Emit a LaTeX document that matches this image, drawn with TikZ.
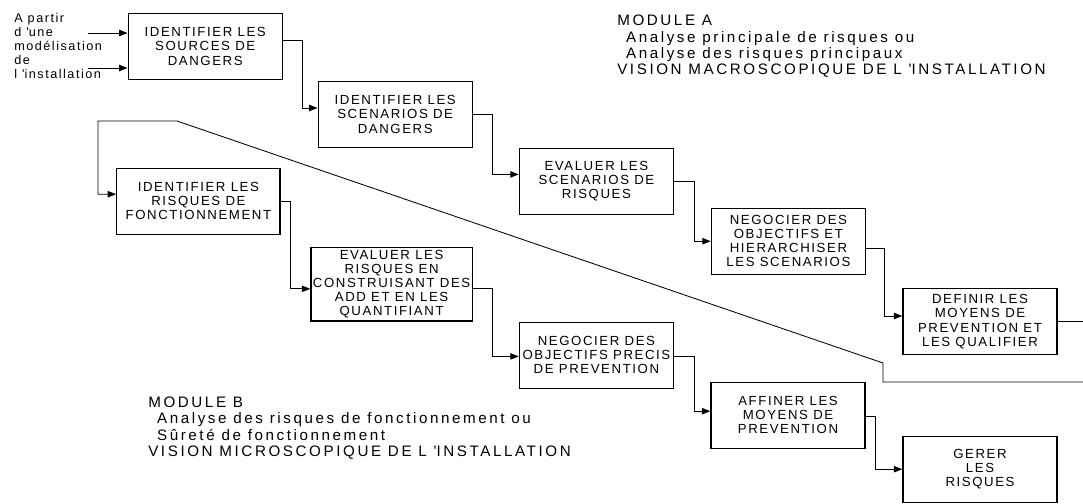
\documentclass[tikz,border=0pt]{standalone}
\usepackage{fontspec}
\setmainfont{Liberation Sans}
\newfontfamily\boitefont[LetterSpace=12]{Liberation Sans}
\newfontfamily\modulefont[LetterSpace=17]{Liberation Sans}
\usepackage{tikz}
\usetikzlibrary{positioning, arrows.meta, calc}

\tikzset{
    etape/.style={draw, line width=0.9pt, minimum width=3.85cm, minimum height=1.65cm,
        inner sep=0pt, align=center, font={\boitefont\fontsize{9.4}{10}\selectfont}},
    lien/.style={line width=0.7pt, -{Triangle[length=6pt,width=4.5pt]}},
    module/.style={anchor=west, align=left, inner sep=0pt,
        font={\modulefont\fontsize{10.8}{11.6}\selectfont}}
}

\begin{document}
\begin{tikzpicture}
    \useasboundingbox (0,0) rectangle (27.075,-12.575);

        % Module A
        \node[etape] (b1) at (5.13,-1.16) {IDENTIFIER LES\\SOURCES DE\\DANGERS};
        \node[etape] (b2) at (9.88,-2.86) {IDENTIFIER LES\\SCENARIOS DE\\DANGERS};
        \node[etape] (b3) at (14.91,-4.53) {EVALUER LES\\SCENARIOS DE\\RISQUES};
        \node[etape] (b4) at (19.71,-6.03) {NEGOCIER DES\\OBJECTIFS ET\\HIERARCHISER\\LES SCENARIOS};
        \node[etape] (b5) at (24.50,-8.04) {DEFINIR LES\\MOYENS DE\\PREVENTION ET\\LES QUALIFIER};

        % Module B
        \node[etape, minimum width=4.08cm] (b6) at (4.96,-5.03) {IDENTIFIER LES\\RISQUES DE\\FONCTIONNEMENT};
        \node[etape, minimum width=4.03cm, minimum height=1.83cm] (b7) at (9.79,-7.11)
            {EVALUER LES\\RISQUES EN\\CONSTRUISANT DES\\ADD ET EN LES\\QUANTIFIANT};
        \node[etape] (b8) at (14.91,-8.88) {NEGOCIER DES\\OBJECTIFS PRECIS\\DE PREVENTION};
        \node[etape] (b9) at (19.70,-10.38) {AFFINER LES\\MOYENS DE\\PREVENTION};
        \node[etape] (b10) at (24.50,-11.73) {GERER\\LES\\RISQUES};

        % Entree
        \node[anchor=west, align=left, inner sep=0pt, font={\boitefont\fontsize{9}{10}\selectfont}] (entree)
            at (0.35,-1.14) {A partir\\d \textquotesingle une\\modélisation\\de\\l \textquotesingle installation};
        \coordinate (in1) at (2.2,-0.825);
        \coordinate (in2) at (2.2,-1.70);
        \draw[lien] (in1) -- (in1 -| b1.west);
        \draw[lien] (in2) -- (in2 -| b1.west);

        % Textes
        \node[module] (modA) at (15.425,-1.16)
            {MODULE A\\\hspace*{0.22cm}Analyse principale de risques ou\\\hspace*{0.22cm}Analyse des risques principaux\\VISION MACROSCOPIQUE DE L \textquotesingle INSTALLATION};
        \node[module] (modB) at (3.70,-10.70)
            {MODULE B\\\hspace*{0.22cm}Analyse des risques de fonctionnement ou\\\hspace*{0.22cm}Sûreté de fonctionnement\\VISION MICROSCOPIQUE DE L \textquotesingle INSTALLATION};

        % Enchainements
        \draw[lien] ([yshift=0.16cm]b1.east) -- ++(0.48,0) |- ([yshift=0.16cm]b2.west);
        \draw[lien] (b2.east) -- ++(0.50,0) |- ([yshift=0.17cm]b3.west);
        \draw[lien] (b3.east) -- ++(0.50,0) |- (b4.west);
        \draw[lien] ([yshift=-0.17cm]b4.east) -- ++(0.45,0) |- ([yshift=0.14cm]b5.west);
        \draw[lien] (b6.east) -- ++(0.25,0) |- ([yshift=-0.11cm]b7.west);
        \draw[lien] ([yshift=-0.09cm]b7.east) -- ++(0.50,0) |- ([yshift=-0.03cm]b8.west);
        \draw[lien] ([yshift=-0.03cm]b8.east) -- ++(0.50,0) |- ([yshift=0.10cm]b9.west);
        \draw[lien] ([yshift=-0.03cm]b9.east) -- ++(0.25,0) |- (b10.west);

        % Sortie et retour
        \coordinate (sortie) at (27.075,-8.03);
        \coordinate (retour) at (27.075,-9.55);
        \draw[line width=0.7pt] (b5.east) -- (b5.east -| sortie);
        \draw[lien, line width=0.6pt] (retour) -- (22.075,-9.55) -- (22.075,-9.075)
            -- (4.425,-3.025) -- (2.45,-3.025) |- ([yshift=0.175cm]b6.west);

    \end{tikzpicture}
\end{document}
